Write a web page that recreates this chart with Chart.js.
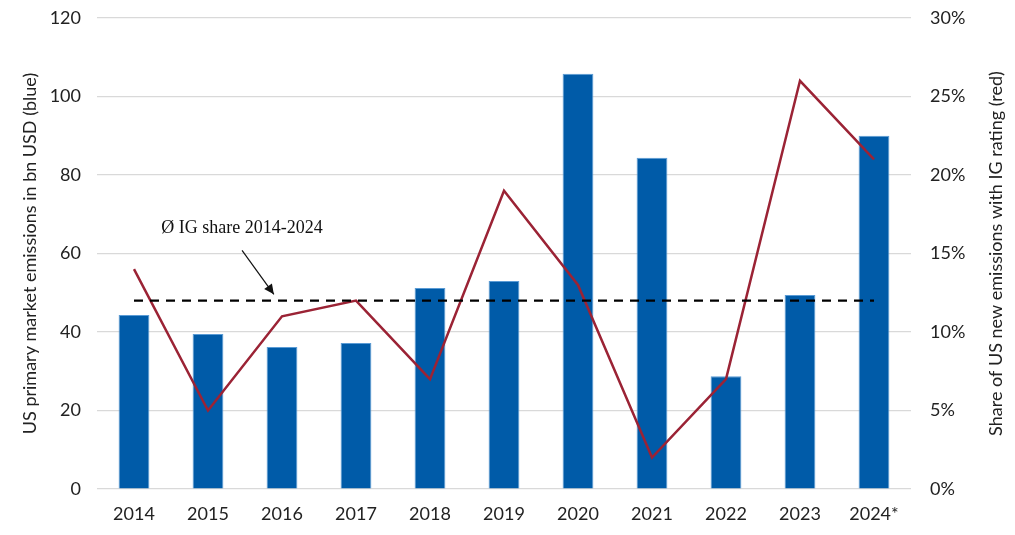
<!DOCTYPE html>
<html>
<head>
<meta charset="utf-8">
<script src="https://cdn.jsdelivr.net/npm/chart.js@4/dist/chart.umd.min.js"></script>
<style>
  html, body { margin: 0; padding: 0; background: #fff; }
  #wrap { width: 1015px; height: 535px; }
</style>
</head>
<body>
<div id="wrap"><canvas id="chart"></canvas></div>
<script>
// chart data
const years = ['2014', '2015', '2016', '2017', '2018', '2019', '2020', '2021', '2022', '2023', '2024*'];
const emissions = [44.3, 39.5, 36.2, 37.2, 51.2, 53.0, 105.8, 84.4, 28.7, 49.4, 90.0];
const igShare = [14, 5, 11, 12, 7, 19, 13, 2, 7, 26, 21];
const avgShare = [12, 12, 12, 12, 12, 12, 12, 12, 12, 12, 12];
const avgLabel = 'Ø IG share 2014-2024';
const rightTitle = 'Share of US new emissions with IG rating (red)';
// annotation anchor in data units (category index, % on right axis)
const labelAt = [1.46, 16.6];
const arrowFrom = [1.46, 15.2];
const arrowTo = [1.89, 12.4];

const tickFont = { family: 'Lato, "Open Sans", sans-serif', size: 18 };

// Annotation text + arrow, and the right axis title read bottom-to-top
const annotationPlugin = {
    id: 'avgNote',
    afterDatasetsDraw(chart) {
        const ctx = chart.ctx;
        const x = chart.scales.x;
        const y = chart.scales.y1;
        ctx.save();
        ctx.fillStyle = '#111';
        ctx.font = '18px "Liberation Serif", serif';
        ctx.textAlign = 'center';
        ctx.textBaseline = 'middle';
        ctx.fillText(avgLabel, x.getPixelForValue(labelAt[0]), y.getPixelForValue(labelAt[1]));

        const x0 = x.getPixelForValue(arrowFrom[0]), y0 = y.getPixelForValue(arrowFrom[1]);
        const x1 = x.getPixelForValue(arrowTo[0]), y1 = y.getPixelForValue(arrowTo[1]);
        ctx.strokeStyle = '#111';
        ctx.lineWidth = 1.2;
        ctx.beginPath();
        ctx.moveTo(x0, y0);
        ctx.lineTo(x1, y1);
        ctx.stroke();
        const a = Math.atan2(y1 - y0, x1 - x0);
        const len = 11, w = 0.45;
        ctx.beginPath();
        ctx.moveTo(x1, y1);
        ctx.lineTo(x1 - len * Math.cos(a - w), y1 - len * Math.sin(a - w));
        ctx.lineTo(x1 - len * Math.cos(a + w), y1 - len * Math.sin(a + w));
        ctx.closePath();
        ctx.fill();

        // right title
        const area = chart.chartArea;
        ctx.translate(y.right - 11, (area.top + area.bottom) / 2);
        ctx.rotate(-Math.PI / 2);
        ctx.fillStyle = '#222';
        ctx.font = '18px Lato, "Open Sans", sans-serif';
        ctx.fillText(rightTitle, 0, 0);
        ctx.restore();
    }
};

function fitVertical(width) {
    return s => {
        s.width = width;
        s.paddingTop = 0;
        s.paddingBottom = 0;
    };
}

new Chart(document.getElementById('chart'), {
    type: 'bar',
    data: {
        labels: years,
        datasets: [
            {
                type: 'line',
                label: 'IG share',
                data: igShare,
                yAxisID: 'y1',
                borderColor: '#9b2335',
                borderWidth: 2.5,
                pointRadius: 0,
                pointHoverRadius: 0,
                tension: 0,
                order: 1
            },
            {
                type: 'line',
                label: 'Average IG share',
                data: avgShare,
                yAxisID: 'y1',
                borderColor: '#000',
                borderWidth: 2.2,
                borderDash: [9, 7],
                pointRadius: 0,
                pointHoverRadius: 0,
                order: 0
            },
            {
                label: 'Emissions',
                data: emissions,
                yAxisID: 'y',
                backgroundColor: '#005ba8',
                borderColor: '#5a9bd5',
                borderWidth: 1,
                categoryPercentage: 0.8,
                barPercentage: 0.52,
                order: 2
            }
        ]
    },
    options: {
        responsive: true,
        maintainAspectRatio: false,
        animation: false,
        layout: { autoPadding: false, padding: { left: 19, right: 8, top: 18, bottom: 0 } },
        plugins: {
            legend: { display: false },
            tooltip: { enabled: false }
        },
        scales: {
            x: {
                grid: { display: false, drawTicks: false },
                border: { display: false },
                ticks: { color: '#222', font: tickFont, padding: 14, maxRotation: 0 },
                afterFit: s => {
                    s.height = 46;
                    s.paddingLeft = 0;
                    s.paddingRight = 0;
                }
            },
            y: {
                position: 'left',
                min: 0,
                max: 120,
                grid: { color: '#d9d9d9', lineWidth: 1.2, drawTicks: false },
                border: { display: false },
                ticks: { stepSize: 20, color: '#222', font: tickFont, padding: 16 },
                title: {
                    display: true,
                    text: 'US primary market emissions in bn USD (blue)',
                    color: '#222',
                    font: tickFont,
                    padding: { top: 0, bottom: 0 }
                },
                afterFit: fitVertical(78)
            },
            y1: {
                position: 'right',
                min: 0,
                max: 30,
                grid: { display: false, drawTicks: false },
                border: { display: false },
                ticks: {
                    stepSize: 5,
                    color: '#222',
                    font: tickFont,
                    padding: 19,
                    callback: v => v + '%'
                },
                title: {
                    display: true,
                    text: rightTitle,
                    color: 'rgba(0,0,0,0)',
                    font: tickFont,
                    padding: { top: 20, bottom: 0 }
                },
                afterFit: fitVertical(96)
            }
        }
    },
    plugins: [annotationPlugin]
});
</script>
</body>
</html>
